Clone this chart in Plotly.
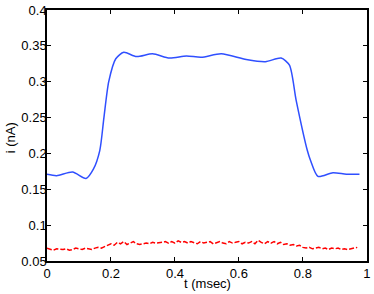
import numpy as np
import plotly.graph_objects as go

# blue trace: current with stimulus (hand)
t_blue = [0.0, 0.03, 0.08, 0.122, 0.145, 0.165, 0.178, 0.193, 0.215, 0.24, 0.28, 0.33,
          0.383, 0.436, 0.482, 0.545, 0.623, 0.683, 0.732, 0.758, 0.779, 0.814, 0.824,
          0.847, 0.894, 0.936, 0.977]
i_blue = [0.171, 0.169, 0.174, 0.165, 0.178, 0.204, 0.25, 0.30, 0.332, 0.341, 0.335, 0.339,
          0.333, 0.336, 0.334, 0.339, 0.331, 0.328, 0.333, 0.323, 0.274, 0.204, 0.19,
          0.168, 0.173, 0.171, 0.171]

# red dashed trace: baseline, sampled every 0.01 msec
t_red = np.round(np.arange(98) * 0.01, 2)
i_red = [0.068, 0.066, 0.065, 0.067, 0.066, 0.066, 0.067, 0.065, 0.066, 0.068,
         0.067, 0.066, 0.068, 0.067, 0.066, 0.068, 0.069, 0.068, 0.070, 0.072,
         0.074, 0.072, 0.076, 0.074, 0.077, 0.073, 0.075, 0.077, 0.074, 0.073,
         0.074, 0.075, 0.074, 0.076, 0.075, 0.075, 0.076, 0.077, 0.075, 0.077,
         0.075, 0.078, 0.076, 0.077, 0.075, 0.077, 0.076, 0.074, 0.077, 0.075,
         0.076, 0.077, 0.074, 0.076, 0.077, 0.075, 0.074, 0.077, 0.075, 0.076,
         0.077, 0.074, 0.076, 0.075, 0.077, 0.074, 0.079, 0.076, 0.074, 0.077,
         0.075, 0.077, 0.074, 0.076, 0.073, 0.074, 0.072, 0.073, 0.071, 0.072,
         0.069, 0.068, 0.069, 0.067, 0.068, 0.069, 0.067, 0.068, 0.066, 0.068,
         0.067, 0.068, 0.066, 0.067, 0.066, 0.067, 0.068, 0.069]

x_ticks = [0, 0.2, 0.4, 0.6, 0.8, 1]
x_labels = ["0", "0.2", "0.4", "0.6", "0.8", "1"]
y_ticks = [0.05, 0.1, 0.15, 0.2, 0.25, 0.3, 0.35, 0.4]
y_labels = ["0.05", "0.1", "0.15", "0.2", "0.25", "0.3", "0.35", "0.4"]

fig = go.Figure()
fig.add_trace(go.Scatter(x=t_red, y=i_red, mode="lines",
                         line=dict(color="#ff0000", width=1.5, dash="5px,2px")))
fig.add_trace(go.Scatter(x=t_blue, y=i_blue, mode="lines",
                         line=dict(color="#2f4fff", width=1.5, shape="spline", smoothing=0.7)))

axis_style = dict(showline=True, linecolor="black", linewidth=1.5, mirror="ticks",
                  ticks="inside", ticklen=4, tickcolor="black", showgrid=False,
                  zeroline=False, tickfont=dict(size=13, color="black"))

fig.update_layout(
    width=374, height=294,
    margin=dict(l=47, r=7, t=10, b=33, autoexpand=False),
    paper_bgcolor="white", plot_bgcolor="white",
    showlegend=False,
    font=dict(family="Liberation Sans, Arial, sans-serif", size=13, color="black"),
    xaxis=dict(range=[0, 1.0005], tickvals=x_ticks, ticktext=x_labels, **axis_style),
    yaxis=dict(range=[0.05, 0.4], tickvals=y_ticks, ticktext=y_labels,
               ticklabelstandoff=-4, **axis_style),
    annotations=[
        dict(text="t (msec)", xref="paper", yref="paper", x=0.5, y=-0.09,
             xanchor="center", yanchor="middle", showarrow=False, font=dict(size=13)),
        dict(text="i (nA)", xref="paper", yref="paper", x=-0.115, y=0.49,
             xanchor="center", yanchor="middle", textangle=-90, showarrow=False,
             font=dict(size=13)),
    ],
)

# drop the default 8px page margin so the figure sits at the window corner
fig.write_html("out.html", config={"displayModeBar": False},
               post_script="document.body.style.margin='0px';")
